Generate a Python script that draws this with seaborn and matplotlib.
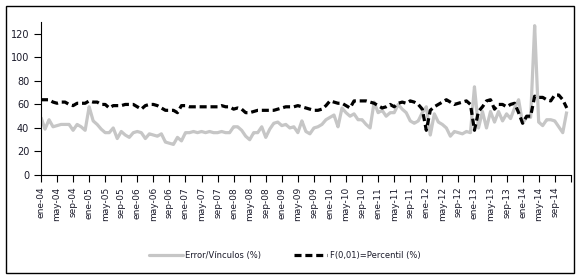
import numpy as np
import pandas as pd
import matplotlib
matplotlib.use("Agg")
import matplotlib.pyplot as plt
import matplotlib.patches as patches
import seaborn as sns

# monthly series, ene-04 .. dic-14 (132 months)
error_vinculos = [
    49, 39, 47, 41, 42, 43, 43, 43, 38, 43, 41, 38,
    58, 46, 43, 39, 36, 36, 40, 31, 37, 34, 32, 36,
    37, 36, 31, 35, 34, 33, 35, 28, 27, 26, 32, 29,
    36, 36, 37, 36, 37, 36, 37, 36, 36, 37, 36, 36,
    41, 41, 38, 33, 30, 36, 36, 41, 32, 39, 44, 45,
    42, 43, 40, 41, 36, 46, 37, 35, 40, 41, 43, 47,
    49, 51, 41, 57, 53, 50, 52, 47, 47, 43, 40, 62,
    53, 55, 50, 53, 53, 60, 56, 53, 46, 44, 46, 53,
    58, 34, 52, 45, 43, 40, 33, 37, 36, 35, 37, 36,
    75, 40, 54, 40, 54, 45, 54, 46, 52, 48, 57, 64,
    44, 49, 49, 127, 45, 42, 47, 47, 46, 41, 36, 54,
]
percentil = [
    64, 64, 64, 62, 61, 62, 62, 60, 59, 61, 61, 61,
    63, 62, 62, 60, 60, 57, 59, 59, 59, 60, 60, 60,
    58, 56, 59, 60, 60, 59, 57, 55, 55, 55, 53, 59,
    59, 58, 58, 58, 58, 58, 58, 58, 58, 59, 58, 58,
    56, 57, 56, 53, 53, 54, 55, 55, 55, 55, 55, 56,
    57, 58, 58, 58, 59, 58, 57, 56, 55, 55, 56, 59,
    63, 62, 61, 61, 59, 57, 63, 63, 63, 63, 62, 61,
    59, 57, 58, 60, 58, 61, 62, 61, 63, 62, 60, 56,
    38, 55, 58, 60, 62, 64, 62, 60, 61, 62, 63, 60,
    38, 54, 58, 63, 64, 56, 60, 60, 58, 60, 61, 53,
    44, 50, 50, 67, 66, 66, 64, 63, 68, 68, 64, 57,
]
years = list(range(4, 15))
tick_months = ["ene", "may", "sep"]
tick_labels = [f"{m}-{y:02d}" for y in years for m in tick_months]

n = len(error_vinculos)
df = pd.DataFrame({
    "mes": list(range(n)) * 2,
    "valor": error_vinculos + percentil,
    "serie": ["Error/Vínculos (%)"] * n + ["F(0,01)=Percentil (%)"] * n,
})

sns.set_style("white")
plt.rcParams["font.family"] = ["Liberation Sans Narrow", "DejaVu Sans"]

fig = plt.figure(figsize=(5.79, 2.80), dpi=100)
ax = fig.add_axes([0.0708, 0.375, 0.915, 0.546])

sns.lineplot(data=df, x="mes", y="valor", hue="serie", style="serie",
             palette=["#c6c6c6", "black"], dashes=[(1, 0), (2.2, 1.2)],
             linewidth=2.3, ax=ax, legend=False)

ax.set_xlim(0, 132)
ax.set_ylim(0, 130)
ax.set_yticks(range(0, 121, 20))
ax.set_xticks(range(0, 133, 4))
ax.set_xticklabels(tick_labels + [""], rotation=90, fontsize=6.5, color="#1a1a2a")
ax.tick_params(axis="y", labelsize=7, colors="black", labelcolor="#1a1a2a")
ax.tick_params(axis="both", direction="out", length=5, width=0.8, color="black",
               bottom=True, left=True)
ax.set_xlabel("")
ax.set_ylabel("")
for s in ["top", "right"]:
    ax.spines[s].set_visible(False)
for s in ["left", "bottom"]:
    ax.spines[s].set_color("black")
    ax.spines[s].set_linewidth(0.8)

handles = [
    plt.Line2D([], [], color="#c6c6c6", lw=2.3),
    plt.Line2D([], [], color="black", lw=2.3, dashes=(2.2, 1.2)),
]
fig.legend(handles, ["Error/Vínculos (%)", "F(0,01)=Percentil (%)"],
           loc="center", bbox_to_anchor=(0.492, 0.088), ncol=2, frameon=False,
           fontsize=6, handlelength=4, columnspacing=3.9, handletextpad=0.3,
           labelcolor="#1a1a2a")

fig.patches.append(patches.Rectangle((6 / 579, 7 / 280), 568 / 579, 267 / 280,
                                     transform=fig.transFigure, fill=False,
                                     edgecolor="black", linewidth=1))

fig.savefig("out.png", dpi=100)
